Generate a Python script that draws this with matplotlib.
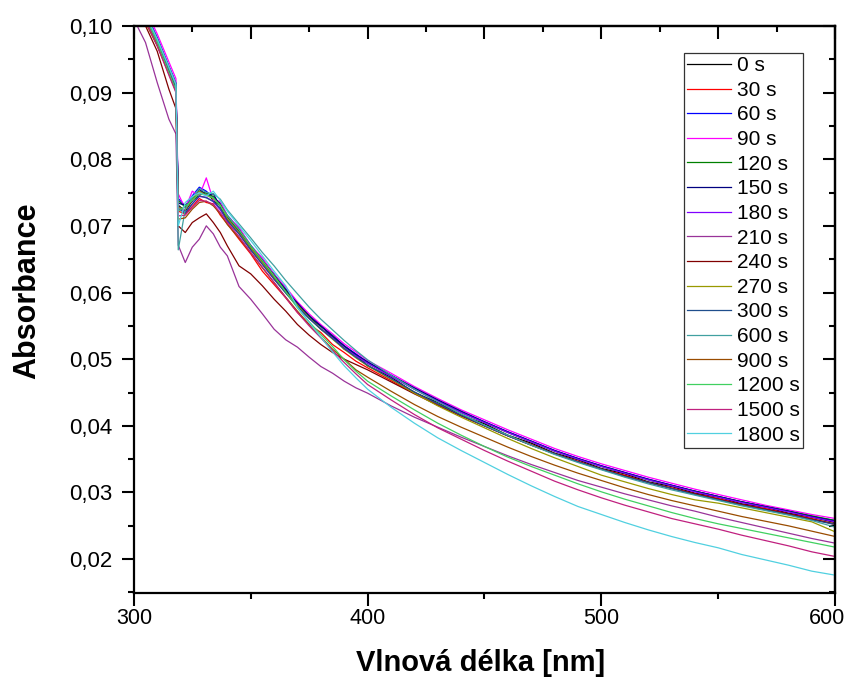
import numpy as np
import matplotlib
matplotlib.use('Agg')
from matplotlib import pyplot as plt
from matplotlib.ticker import FuncFormatter, MultipleLocator, NullFormatter
from matplotlib.transforms import ScaledTranslation

plt.rcParams['font.family'] = ['Liberation Sans', 'DejaVu Sans']

# wavelength grid [nm]
wl = [300, 305, 310, 315, 318, 319, 322, 325, 328, 331, 334, 337, 340, 345, 350,
      355, 360, 365, 370, 375, 380, 385, 390, 395, 400, 410, 420, 430, 440, 450,
      460, 470, 480, 490, 500, 510, 520, 530, 540, 550, 560, 570, 580, 590, 600]

# absorbance, in units of 1e-4
a_0 = [1050, 1014, 978, 935, 912, 731, 722, 738, 746, 751, 738, 730, 709, 693, 665,
       648, 621, 604, 580, 565, 545, 534, 515, 506, 490, 473, 450, 435, 416, 403,
       386, 374, 359, 349, 336, 328, 316, 309, 299, 293, 283, 278, 269, 263, 255]
a_30 = [1045, 1010, 972, 930, 906, 722, 718, 729, 741, 735, 733, 716, 703, 680, 658,
        632, 612, 592, 570, 552, 540, 522, 510, 497, 487, 468, 449, 432, 415, 400,
        385, 372, 358, 347, 335, 326, 315, 307, 298, 291, 282, 276, 268, 261, 252]
a_60 = [1058, 1020, 983, 940, 915, 741, 730, 745, 758, 752, 742, 734, 716, 696, 671,
        650, 628, 606, 585, 566, 550, 536, 520, 508, 495, 476, 456, 438, 421, 406,
        391, 377, 363, 351, 340, 330, 320, 311, 302, 294, 286, 279, 272, 264, 258]
a_90 = [1065, 1025, 988, 946, 921, 748, 726, 752, 745, 772, 738, 737, 714, 698, 670,
        652, 627, 608, 586, 568, 552, 538, 523, 511, 498, 479, 459, 441, 424, 409,
        394, 380, 366, 354, 343, 333, 323, 314, 305, 297, 289, 281, 274, 267, 261]
a_120 = [1055, 1016, 980, 937, 910, 738, 728, 741, 752, 749, 744, 732, 714, 694, 670,
         648, 626, 604, 583, 565, 549, 535, 519, 506, 494, 475, 455, 437, 420, 405,
         390, 376, 362, 350, 339, 329, 319, 310, 302, 294, 286, 279, 272, 265, 258]
a_150 = [1052, 1015, 979, 938, 913, 734, 731, 737, 755, 746, 748, 729, 713, 692, 669,
         647, 625, 603, 584, 564, 550, 534, 520, 507, 496, 476, 457, 439, 422, 406,
         391, 377, 363, 351, 340, 330, 320, 311, 302, 294, 286, 279, 272, 264, 257]
a_180 = [1048, 1012, 976, 934, 909, 729, 720, 733, 744, 743, 736, 724, 707, 688, 664,
         643, 620, 600, 579, 561, 546, 532, 517, 505, 494, 474, 455, 437, 420, 405,
         390, 376, 362, 350, 339, 329, 319, 310, 301, 293, 285, 278, 271, 263, 256]
a_210 = [1010, 975, 915, 860, 838, 671, 645, 668, 680, 700, 688, 668, 655, 609, 590,
         568, 545, 529, 518, 503, 489, 479, 467, 457, 449, 430, 413, 398, 383, 369,
         355, 342, 330, 318, 308, 298, 289, 280, 272, 263, 255, 247, 239, 231, 224]
a_240 = [1035, 1000, 962, 905, 876, 700, 690, 705, 712, 718, 705, 690, 670, 640, 628,
         610, 590, 572, 552, 536, 522, 510, 500, 492, 484, 466, 448, 431, 415, 400,
         385, 371, 358, 346, 335, 325, 315, 306, 298, 290, 282, 275, 268, 260, 253]
a_270 = [1053, 1015, 977, 933, 908, 728, 724, 739, 752, 746, 741, 731, 711, 690, 667,
         645, 622, 601, 581, 562, 545, 530, 515, 502, 490, 470, 449, 430, 413, 397,
         381, 366, 352, 339, 326, 316, 306, 297, 289, 284, 277, 270, 263, 256, 241]
a_300 = [1050, 1012, 975, 932, 907, 726, 719, 733, 745, 742, 737, 726, 708, 688, 664,
         642, 620, 599, 579, 561, 545, 531, 516, 503, 491, 471, 451, 433, 416, 400,
         385, 371, 358, 346, 335, 324, 315, 306, 297, 289, 281, 274, 267, 259, 252]
a_600 = [1057, 1018, 981, 939, 914, 664, 725, 742, 756, 750, 748, 740, 724, 703, 682,
         660, 640, 618, 598, 578, 560, 544, 528, 513, 499, 476, 455, 436, 418, 401,
         386, 371, 357, 345, 334, 323, 313, 304, 296, 288, 280, 273, 266, 258, 248]
a_900 = [1040, 1005, 970, 928, 902, 710, 712, 725, 735, 737, 730, 718, 702, 682, 660,
         637, 615, 593, 572, 552, 533, 515, 500, 484, 473, 452, 432, 414, 398, 383,
         368, 354, 341, 329, 318, 307, 297, 288, 280, 272, 264, 257, 250, 242, 234]
a_1200 = [1052, 1013, 975, 930, 904, 722, 730, 738, 748, 746, 742, 730, 715, 694, 670,
          648, 625, 601, 577, 556, 537, 519, 499, 482, 467, 445, 424, 404, 386, 369,
          353, 339, 326, 313, 301, 290, 280, 270, 261, 253, 246, 239, 232, 225, 218]
a_1500 = [1045, 1008, 970, 926, 900, 715, 716, 728, 738, 737, 732, 720, 705, 684, 660,
          638, 615, 592, 570, 550, 532, 513, 495, 478, 462, 439, 417, 397, 380, 363,
          347, 332, 317, 304, 292, 281, 271, 261, 253, 245, 236, 228, 220, 211, 204]
a_1800 = [1055, 1017, 980, 938, 912, 700, 735, 744, 750, 745, 752, 738, 722, 700, 678,
          655, 632, 610, 578, 555, 533, 511, 490, 472, 455, 428, 404, 382, 363, 345,
          327, 310, 294, 279, 267, 255, 244, 234, 225, 217, 207, 199, 191, 182, 176]

series = [a_0, a_30, a_60, a_90, a_120, a_150, a_180, a_210, a_240, a_270,
          a_300, a_600, a_900, a_1200, a_1500, a_1800]
labels = ['0 s', '30 s', '60 s', '90 s', '120 s', '150 s', '180 s', '210 s', '240 s',
          '270 s', '300 s', '600 s', '900 s', '1200 s', '1500 s', '1800 s']
colors = ['#000000', '#FF0000', '#0000FF', '#FF00FF', '#008000', '#000080', '#8000FF',
          '#993399', '#800000', '#999900', '#1F4E8C', '#40A0A0', '#994C00', '#40D060',
          '#C0207F', '#50D0E0']

fig = plt.figure(figsize=(8.47, 6.81), dpi=100)
ax = fig.add_axes([0.158, 0.129, 0.828, 0.833])

for vals, lab, col in zip(series, labels, colors):
    ax.plot(wl, np.array(vals) / 1e4, color=col, lw=0.9, label=lab)

ax.set_xlim(300, 600)
ax.set_ylim(0.0149, 0.10)

# bottom / left: outward ticks
ax.xaxis.set_major_locator(MultipleLocator(100))
ax.xaxis.set_minor_locator(MultipleLocator(50))
ax.yaxis.set_major_locator(MultipleLocator(0.01))
ax.yaxis.set_minor_locator(MultipleLocator(0.005))
ax.yaxis.set_major_formatter(FuncFormatter(lambda v, p: ('%.2f' % v).replace('.', ',')))
ax.tick_params(which='major', direction='out', length=9, width=1.5)
ax.tick_params(which='minor', direction='out', length=4, width=1.5)
ax.tick_params(axis='y', labelsize=16, pad=6.5)
ax.tick_params(axis='x', labelsize=15.5, pad=1.5)
for s in ax.spines.values():
    s.set_linewidth(1.6)

# top / right: inward ticks
top = ax.secondary_xaxis('top')
top.xaxis.set_major_locator(MultipleLocator(50))
top.xaxis.set_minor_locator(MultipleLocator(25))
top.xaxis.set_major_formatter(NullFormatter())
top.tick_params(which='major', direction='in', length=9, width=1.5)
top.tick_params(which='minor', direction='in', length=4, width=1.5)
top.spines['top'].set_linewidth(1.6)
right = ax.secondary_yaxis('right')
right.yaxis.set_major_locator(MultipleLocator(0.01))
right.yaxis.set_minor_locator(MultipleLocator(0.005))
right.yaxis.set_major_formatter(NullFormatter())
right.tick_params(which='major', direction='in', length=9, width=1.5)
right.tick_params(which='minor', direction='in', length=4, width=1.5)
right.spines['right'].set_linewidth(1.6)

# keep the 600 label inside the figure edge
locs = list(ax.xaxis.get_majorticklocs())
ticks = ax.xaxis.get_major_ticks(len(locs))
for loc, tk in zip(locs, ticks):
    if abs(loc - 600) < 1e-6:
        lab = tk.label1
        lab.set_transform(lab.get_transform() + ScaledTranslation(-6 / 72, 0, fig.dpi_scale_trans))

ax.set_ylabel('Absorbance', fontsize=22, weight='bold')
ax.yaxis.set_label_coords(-0.131, 0.533)
ax.set_xlabel('Vlnová délka [nm]', fontsize=21, weight='bold')
ax.xaxis.set_label_coords(0.494, -0.098)

leg = ax.legend(loc='upper right', bbox_to_anchor=(0.954, 0.952), borderaxespad=0,
                fontsize=15, frameon=True, fancybox=False, labelspacing=0.27,
                handlelength=2.1, handletextpad=0.3, borderpad=0.15)
leg.get_frame().set_edgecolor('black')
leg.get_frame().set_linewidth(0.9)

plt.savefig('out.png', dpi=100)
